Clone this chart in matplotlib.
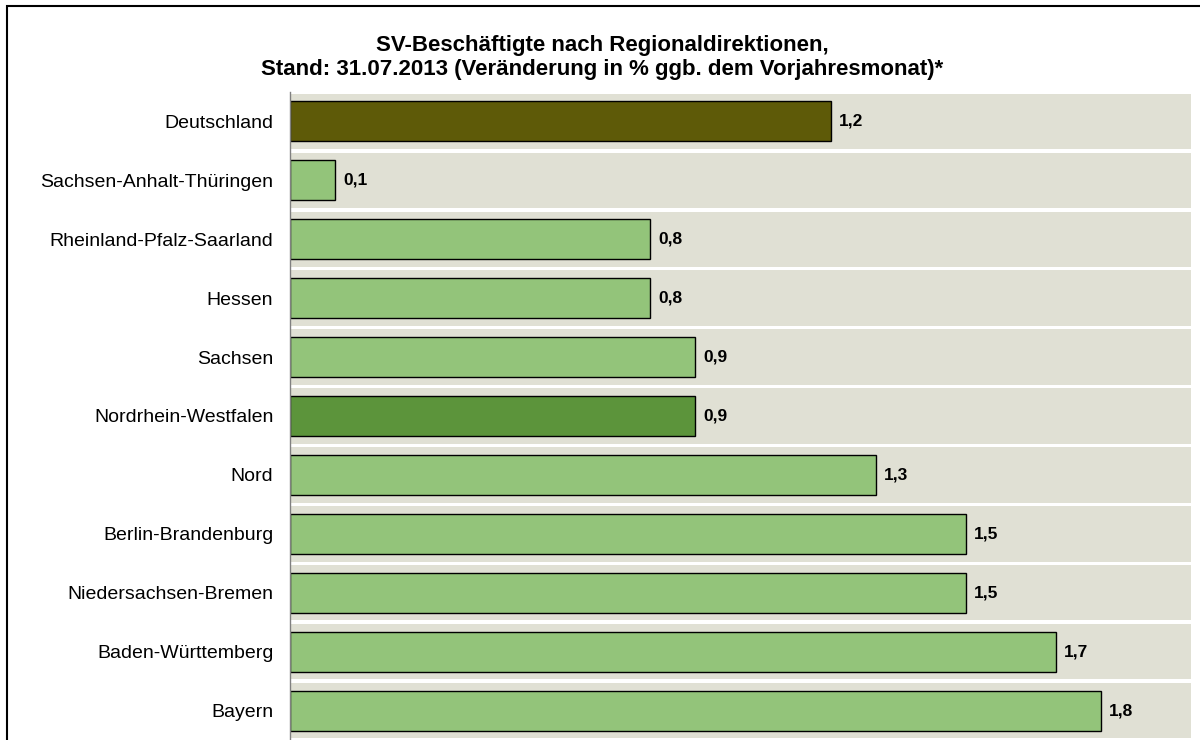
import matplotlib
matplotlib.use("Agg")
import matplotlib.pyplot as plt
from matplotlib.patches import Rectangle

regions = ["Deutschland", "Sachsen-Anhalt-Thüringen", "Rheinland-Pfalz-Saarland",
           "Hessen", "Sachsen", "Nordrhein-Westfalen", "Nord", "Berlin-Brandenburg",
           "Niedersachsen-Bremen", "Baden-Württemberg", "Bayern"]
values = [1.2, 0.1, 0.8, 0.8, 0.9, 0.9, 1.3, 1.5, 1.5, 1.7, 1.8]

OLIVE = "#5E5A08"
DARK_GREEN = "#5C943B"
LIGHT_GREEN = "#93C47A"
BAND = "#E0E0D4"
colors = [OLIVE if r == "Deutschland" else DARK_GREEN if r == "Nordrhein-Westfalen"
          else LIGHT_GREEN for r in regions]

plt.rcParams["font.family"] = ["Liberation Sans", "DejaVu Sans"]

fig = plt.figure(figsize=(12, 7.4), dpi=100)
ax = fig.add_axes([290 / 1200, 0.0, 901 / 1200, 1 - 92 / 740])

n = len(regions)
ypos = list(range(n))
gap = 0.03
for y in ypos:
    ax.axhspan(y - 0.5 + gap, y + 0.5 - gap, color=BAND, lw=0, zorder=0)

bars = ax.barh(ypos, values, height=0.68, color=colors, edgecolor="black",
               linewidth=1.0, zorder=2)
for y, v in zip(ypos, values):
    ax.text(v + 0.018, y, f"{v:.1f}".replace(".", ","), va="center", ha="left",
            fontsize=12.5, fontweight="bold", color="black")

ax.set_xlim(0, 2.0)
ax.set_ylim(n - 0.5, -0.5)
ax.set_yticks(ypos)
ax.set_yticklabels(regions, fontsize=14)
ax.tick_params(axis="y", length=0, pad=12)
ax.set_xticks([])
for s in ["top", "right", "bottom"]:
    ax.spines[s].set_visible(False)
ax.spines["left"].set_color("#808080")
ax.spines["left"].set_linewidth(1.0)
ax.set_facecolor("white")

fig.text(0.502, 1 - 46 / 740, "SV-Beschäftigte nach Regionaldirektionen,",
         ha="center", va="center", fontsize=16, fontweight="bold")
fig.text(0.502, 1 - 69 / 740,
         "Stand: 31.07.2013 (Veränderung in % ggb. dem Vorjahresmonat)*",
         ha="center", va="center", fontsize=16, fontweight="bold")

# outer chart frame (cut off at right and bottom)
fig.patches.append(Rectangle((7 / 1200, -0.1), 1.2, 1.1 - 6 / 740,
                             transform=fig.transFigure, fill=False,
                             edgecolor="black", linewidth=1.5))

fig.savefig("out.png", dpi=100, facecolor="white")
